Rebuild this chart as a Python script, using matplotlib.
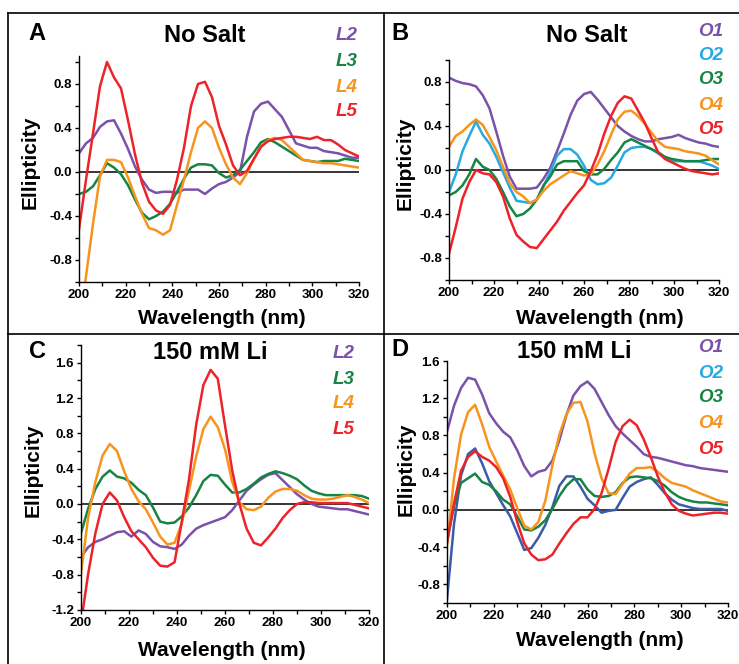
import numpy as np
import matplotlib
matplotlib.use('Agg')
import matplotlib.pyplot as plt
from matplotlib.lines import Line2D
from matplotlib.ticker import MultipleLocator, FormatStrFormatter

plt.rcParams['font.family'] = ['Liberation Sans', 'DejaVu Sans']
plt.rcParams['axes.unicode_minus'] = False

# wavelength grid (nm), read every 3 nm
wavelength = np.arange(200, 321, 3)

# ---- panel A : No Salt, L2-L5 ----
a_L2 = [0.17, 0.26, 0.31, 0.41, 0.46, 0.47, 0.35, 0.21, 0.05, -0.07, -0.16, -0.19, -0.18, -0.18,
        -0.19, -0.16, -0.16, -0.16, -0.20, -0.15, -0.11, -0.09, -0.05, 0.00, 0.32, 0.55, 0.62,
        0.64, 0.57, 0.50, 0.38, 0.26, 0.24, 0.22, 0.22, 0.19, 0.18, 0.17, 0.15, 0.13, 0.13]
a_L3 = [-0.20, -0.18, -0.13, -0.03, 0.08, 0.04, -0.02, -0.12, -0.25, -0.37, -0.43, -0.40, -0.36,
        -0.29, -0.18, -0.06, 0.04, 0.07, 0.07, 0.06, -0.01, -0.05, -0.03, 0.02, 0.10, 0.18, 0.27,
        0.30, 0.27, 0.23, 0.19, 0.15, 0.11, 0.10, 0.09, 0.10, 0.10, 0.10, 0.12, 0.11, 0.10]
a_L4 = [-1.35, -0.95, -0.47, -0.04, 0.11, 0.11, 0.09, -0.05, -0.22, -0.38, -0.51, -0.53, -0.57,
        -0.53, -0.30, -0.07, 0.18, 0.40, 0.46, 0.40, 0.22, 0.07, -0.05, -0.11, -0.01, 0.12, 0.23,
        0.29, 0.31, 0.29, 0.23, 0.17, 0.11, 0.10, 0.09, 0.08, 0.08, 0.07, 0.06, 0.05, 0.04]
a_L5 = [-0.52, -0.07, 0.35, 0.78, 1.00, 0.86, 0.76, 0.47, 0.16, -0.10, -0.27, -0.35, -0.38, -0.30,
        -0.07, 0.22, 0.60, 0.80, 0.82, 0.68, 0.42, 0.25, 0.06, -0.03, 0.01, 0.12, 0.23, 0.28, 0.30,
        0.31, 0.32, 0.32, 0.31, 0.30, 0.32, 0.29, 0.29, 0.25, 0.20, 0.17, 0.14]

# ---- panel B : No Salt, O1-O5 ----
b_O1 = [0.84, 0.81, 0.79, 0.78, 0.76, 0.68, 0.56, 0.35, 0.13, -0.06, -0.17, -0.17, -0.17, -0.16,
        -0.08, 0.02, 0.17, 0.33, 0.50, 0.63, 0.69, 0.71, 0.64, 0.56, 0.48, 0.40, 0.35, 0.31, 0.28,
        0.26, 0.26, 0.28, 0.29, 0.30, 0.32, 0.29, 0.27, 0.25, 0.24, 0.22, 0.21]
b_O2 = [-0.20, -0.04, 0.17, 0.31, 0.44, 0.32, 0.24, 0.12, -0.02, -0.16, -0.28, -0.29, -0.30, -0.27,
        -0.15, -0.02, 0.13, 0.19, 0.19, 0.14, 0.04, -0.09, -0.13, -0.12, -0.07, 0.04, 0.16, 0.20,
        0.21, 0.21, 0.19, 0.15, 0.11, 0.08, 0.08, 0.08, 0.08, 0.08, 0.06, 0.04, 0.01]
b_O3 = [-0.23, -0.20, -0.14, -0.04, 0.10, 0.03, 0.00, -0.08, -0.20, -0.33, -0.42, -0.40, -0.35,
        -0.27, -0.14, -0.06, 0.05, 0.08, 0.08, 0.08, -0.01, -0.04, -0.04, 0.01, 0.09, 0.16, 0.25,
        0.28, 0.25, 0.22, 0.19, 0.16, 0.12, 0.10, 0.09, 0.08, 0.08, 0.08, 0.09, 0.10, 0.10]
b_O4 = [0.21, 0.31, 0.35, 0.41, 0.46, 0.41, 0.30, 0.18, 0.03, -0.12, -0.20, -0.24, -0.30, -0.27,
        -0.19, -0.13, -0.09, -0.05, -0.01, -0.03, -0.05, -0.04, 0.05, 0.17, 0.32, 0.46, 0.53, 0.54,
        0.49, 0.42, 0.34, 0.26, 0.21, 0.20, 0.19, 0.17, 0.16, 0.15, 0.13, 0.09, 0.05]
b_O5 = [-0.76, -0.52, -0.26, -0.11, 0.00, -0.03, -0.04, -0.11, -0.24, -0.44, -0.59, -0.65, -0.70,
        -0.71, -0.63, -0.55, -0.47, -0.37, -0.29, -0.21, -0.14, -0.01, 0.14, 0.33, 0.49, 0.61, 0.67,
        0.65, 0.54, 0.43, 0.29, 0.16, 0.10, 0.07, 0.04, 0.01, -0.01, -0.02, -0.03, -0.04, -0.03]

# ---- panel C : 150 mM Li, L2-L5 ----
c_L2 = [-0.60, -0.49, -0.43, -0.40, -0.36, -0.32, -0.31, -0.37, -0.30, -0.34, -0.43, -0.48, -0.49,
        -0.51, -0.46, -0.36, -0.28, -0.24, -0.21, -0.18, -0.15, -0.07, 0.04, 0.15, 0.22, 0.28, 0.33,
        0.35, 0.27, 0.19, 0.11, 0.05, 0.00, -0.03, -0.04, -0.05, -0.06, -0.06, -0.08, -0.10, -0.12]
c_L3 = [-0.33, -0.05, 0.17, 0.31, 0.38, 0.31, 0.29, 0.24, 0.16, 0.10, -0.04, -0.20, -0.22, -0.21,
        -0.14, -0.04, 0.10, 0.26, 0.33, 0.32, 0.22, 0.13, 0.13, 0.17, 0.23, 0.30, 0.34, 0.37, 0.35,
        0.32, 0.28, 0.21, 0.15, 0.12, 0.10, 0.10, 0.10, 0.10, 0.10, 0.09, 0.06]
c_L4 = [-0.79, -0.15, 0.25, 0.55, 0.68, 0.60, 0.37, 0.17, 0.03, -0.06, -0.21, -0.37, -0.46, -0.44,
        -0.22, 0.15, 0.54, 0.85, 0.99, 0.87, 0.62, 0.25, 0.02, -0.06, -0.07, -0.03, 0.07, 0.14, 0.17,
        0.17, 0.15, 0.10, 0.06, 0.05, 0.05, 0.06, 0.08, 0.10, 0.08, 0.05, 0.01]
c_L5 = [-1.35, -0.79, -0.33, 0.00, 0.13, 0.04, -0.15, -0.31, -0.40, -0.49, -0.61, -0.70, -0.71,
        -0.66, -0.20, 0.28, 0.90, 1.35, 1.52, 1.42, 0.89, 0.38, 0.00, -0.28, -0.44, -0.47, -0.38,
        -0.28, -0.16, -0.07, 0.00, 0.02, 0.02, 0.01, 0.01, 0.01, 0.01, 0.01, -0.01, -0.03, -0.05]

# ---- panel D : 150 mM Li, O1-O5 ----
d_O1 = [0.84, 1.12, 1.31, 1.42, 1.40, 1.24, 1.04, 0.93, 0.84, 0.78, 0.64, 0.47, 0.36, 0.41, 0.43,
        0.53, 0.75, 1.02, 1.23, 1.33, 1.38, 1.30, 1.16, 1.02, 0.90, 0.82, 0.75, 0.68, 0.60, 0.57,
        0.56, 0.54, 0.52, 0.50, 0.48, 0.47, 0.45, 0.44, 0.43, 0.42, 0.41]
d_O2 = [-0.96, -0.15, 0.37, 0.60, 0.66, 0.50, 0.31, 0.18, 0.05, -0.07, -0.25, -0.43, -0.41, -0.30,
        -0.16, 0.03, 0.26, 0.36, 0.36, 0.25, 0.12, 0.05, -0.03, -0.01, 0.00, 0.13, 0.25, 0.30, 0.33,
        0.35, 0.27, 0.18, 0.11, 0.06, 0.04, 0.02, 0.01, 0.01, 0.01, 0.01, -0.01]
d_O3 = [-0.35, 0.05, 0.29, 0.34, 0.39, 0.30, 0.27, 0.20, 0.11, 0.06, -0.07, -0.21, -0.22, -0.18,
        -0.11, 0.01, 0.15, 0.26, 0.33, 0.33, 0.22, 0.15, 0.14, 0.15, 0.19, 0.29, 0.35, 0.36, 0.35,
        0.34, 0.31, 0.26, 0.19, 0.14, 0.11, 0.09, 0.08, 0.08, 0.07, 0.06, 0.05]
d_O4 = [-0.38, 0.34, 0.81, 1.05, 1.13, 0.92, 0.68, 0.52, 0.37, 0.22, 0.02, -0.17, -0.21, -0.13,
        0.10, 0.48, 0.81, 1.03, 1.15, 1.16, 0.95, 0.61, 0.34, 0.18, 0.17, 0.28, 0.39, 0.45, 0.45,
        0.46, 0.41, 0.34, 0.29, 0.27, 0.25, 0.21, 0.18, 0.15, 0.12, 0.09, 0.08]
d_O5 = [-0.35, 0.07, 0.42, 0.57, 0.63, 0.57, 0.53, 0.46, 0.34, 0.14, -0.13, -0.36, -0.48, -0.54,
        -0.53, -0.48, -0.36, -0.25, -0.15, -0.08, -0.08, 0.01, 0.18, 0.44, 0.73, 0.90, 0.97, 0.91,
        0.76, 0.57, 0.36, 0.19, 0.06, -0.01, -0.04, -0.06, -0.05, -0.04, -0.03, -0.03, -0.04]

PURPLE = '#7A52A9'
CYAN = '#27AAE1'
BLUE = '#3B5BAA'
GREEN = '#178443'
ORANGE = '#F7941E'
RED = '#EE2229'

W, H = 739, 664
fig = plt.figure(figsize=(W / 100, H / 100), dpi=100)
fig.patch.set_facecolor('white')


def px_text(x, y, s, **kw):
    fig.text(x / W, 1 - y / H, s, **kw)


def make_axes(left, top, right, bottom, ylim, yticks):
    ax = fig.add_axes([left / W, 1 - bottom / H, (right - left) / W, (bottom - top) / H])
    ax.set_xlim(200, 320)
    ax.set_ylim(*ylim)
    ax.spines['top'].set_visible(False)
    ax.spines['right'].set_visible(False)
    for s in ('left', 'bottom'):
        ax.spines[s].set_linewidth(1.0)
    ax.set_xticks(np.arange(200, 321, 20))
    ax.xaxis.set_minor_locator(MultipleLocator(10))
    ax.set_yticks(yticks)
    ax.yaxis.set_minor_locator(MultipleLocator(0.2))
    ax.yaxis.set_major_formatter(FormatStrFormatter('%.1f'))
    ax.tick_params(which='both', direction='out', length=3, width=1.0, pad=2)
    ax.tick_params(labelsize=9.5)
    for lab in ax.get_xticklabels() + ax.get_yticklabels():
        lab.set_fontweight('bold')
    ax.axhline(0, color='black', lw=1.1, zorder=1)
    return ax


ax_a = make_axes(79, 56.5, 359, 282, (-1.0, 1.05), [-0.8, -0.4, 0.0, 0.4, 0.8])
ax_b = make_axes(449, 60, 719, 280, (-1.0, 1.0), [-0.8, -0.4, 0.0, 0.4, 0.8])
ax_c = make_axes(81, 345.2, 369, 609.8, (-1.2, 1.8), [-1.2, -0.8, -0.4, 0.0, 0.4, 0.8, 1.2, 1.6])
ax_d = make_axes(447, 361, 728, 603, (-1.0, 1.6), [-0.8, -0.4, 0.0, 0.4, 0.8, 1.2, 1.6])

LW = 1.8
for y, c in [(a_L2, PURPLE), (a_L3, GREEN), (a_L4, ORANGE), (a_L5, RED)]:
    ax_a.plot(wavelength, y, color=c, lw=LW)
for y, c in [(b_O1, PURPLE), (b_O2, CYAN), (b_O3, GREEN), (b_O4, ORANGE), (b_O5, RED)]:
    ax_b.plot(wavelength, y, color=c, lw=LW)
for y, c in [(c_L2, PURPLE), (c_L3, GREEN), (c_L4, ORANGE), (c_L5, RED)]:
    ax_c.plot(wavelength, y, color=c, lw=LW)
for y, c in [(d_O1, PURPLE), (d_O2, BLUE), (d_O3, GREEN), (d_O4, ORANGE), (d_O5, RED)]:
    ax_d.plot(wavelength, y, color=c, lw=LW)

# panel letters and titles
big = dict(fontsize=17, fontweight='bold', va='center')
px_text(28, 34, 'A', ha='left', **big)
px_text(391, 33, 'B', ha='left', **big)
px_text(29, 351, 'C', ha='left', **big)
px_text(391, 350, 'D', ha='left', **big)
px_text(205, 35, 'No Salt', ha='center', **big)
px_text(587, 35, 'No Salt', ha='center', **big)
px_text(210, 353, '150 mM Li', ha='center', **big)
px_text(574, 351, '150 mM Li', ha='center', **big)

# legend-like series names
leg = dict(fontsize=13.5, fontweight='bold', style='italic', va='center', ha='left')
for name, c, y in zip(['L2', 'L3', 'L4', 'L5'], [PURPLE, GREEN, ORANGE, RED], [36, 62, 87, 112]):
    px_text(336, y, name, color=c, **leg)
for name, c, y in zip(['O1', 'O2', 'O3', 'O4', 'O5'], [PURPLE, CYAN, GREEN, ORANGE, RED],
                      [31, 55, 80, 105, 130]):
    px_text(698, y, name, color=c, **leg)
for name, c, y in zip(['L2', 'L3', 'L4', 'L5'], [PURPLE, GREEN, ORANGE, RED], [354, 379, 404, 429]):
    px_text(333, y, name, color=c, **leg)
for name, c, y in zip(['O1', 'O2', 'O3', 'O4', 'O5'], [PURPLE, CYAN, GREEN, ORANGE, RED],
                      [348, 373, 398, 424, 449]):
    px_text(698, y, name, color=c, **leg)

# axis labels
lab = dict(fontsize=15, fontweight='bold', va='center', ha='center')
px_text(222, 318, 'Wavelength (nm)', **lab)
px_text(600, 318, 'Wavelength (nm)', **lab)
px_text(222, 650, 'Wavelength (nm)', **lab)
px_text(600, 641, 'Wavelength (nm)', **lab)
px_text(30, 162, 'Ellipticity', rotation=90, **lab)
px_text(405, 163, 'Ellipticity', rotation=90, **lab)
px_text(33, 470, 'Ellipticity', rotation=90, **lab)
px_text(406, 469, 'Ellipticity', rotation=90, **lab)

# panel frame lines
frame = dict(color='black', lw=1.2, transform=fig.transFigure)
fig.add_artist(Line2D([8 / W, 1], [1 - 13 / H] * 2, **frame))
fig.add_artist(Line2D([8 / W, 1], [1 - 334 / H] * 2, **frame))
fig.add_artist(Line2D([8 / W] * 2, [0, 1 - 13 / H], **frame))
fig.add_artist(Line2D([384 / W] * 2, [0, 1 - 13 / H], **frame))

fig.savefig('out.png', dpi=100, facecolor='white')
